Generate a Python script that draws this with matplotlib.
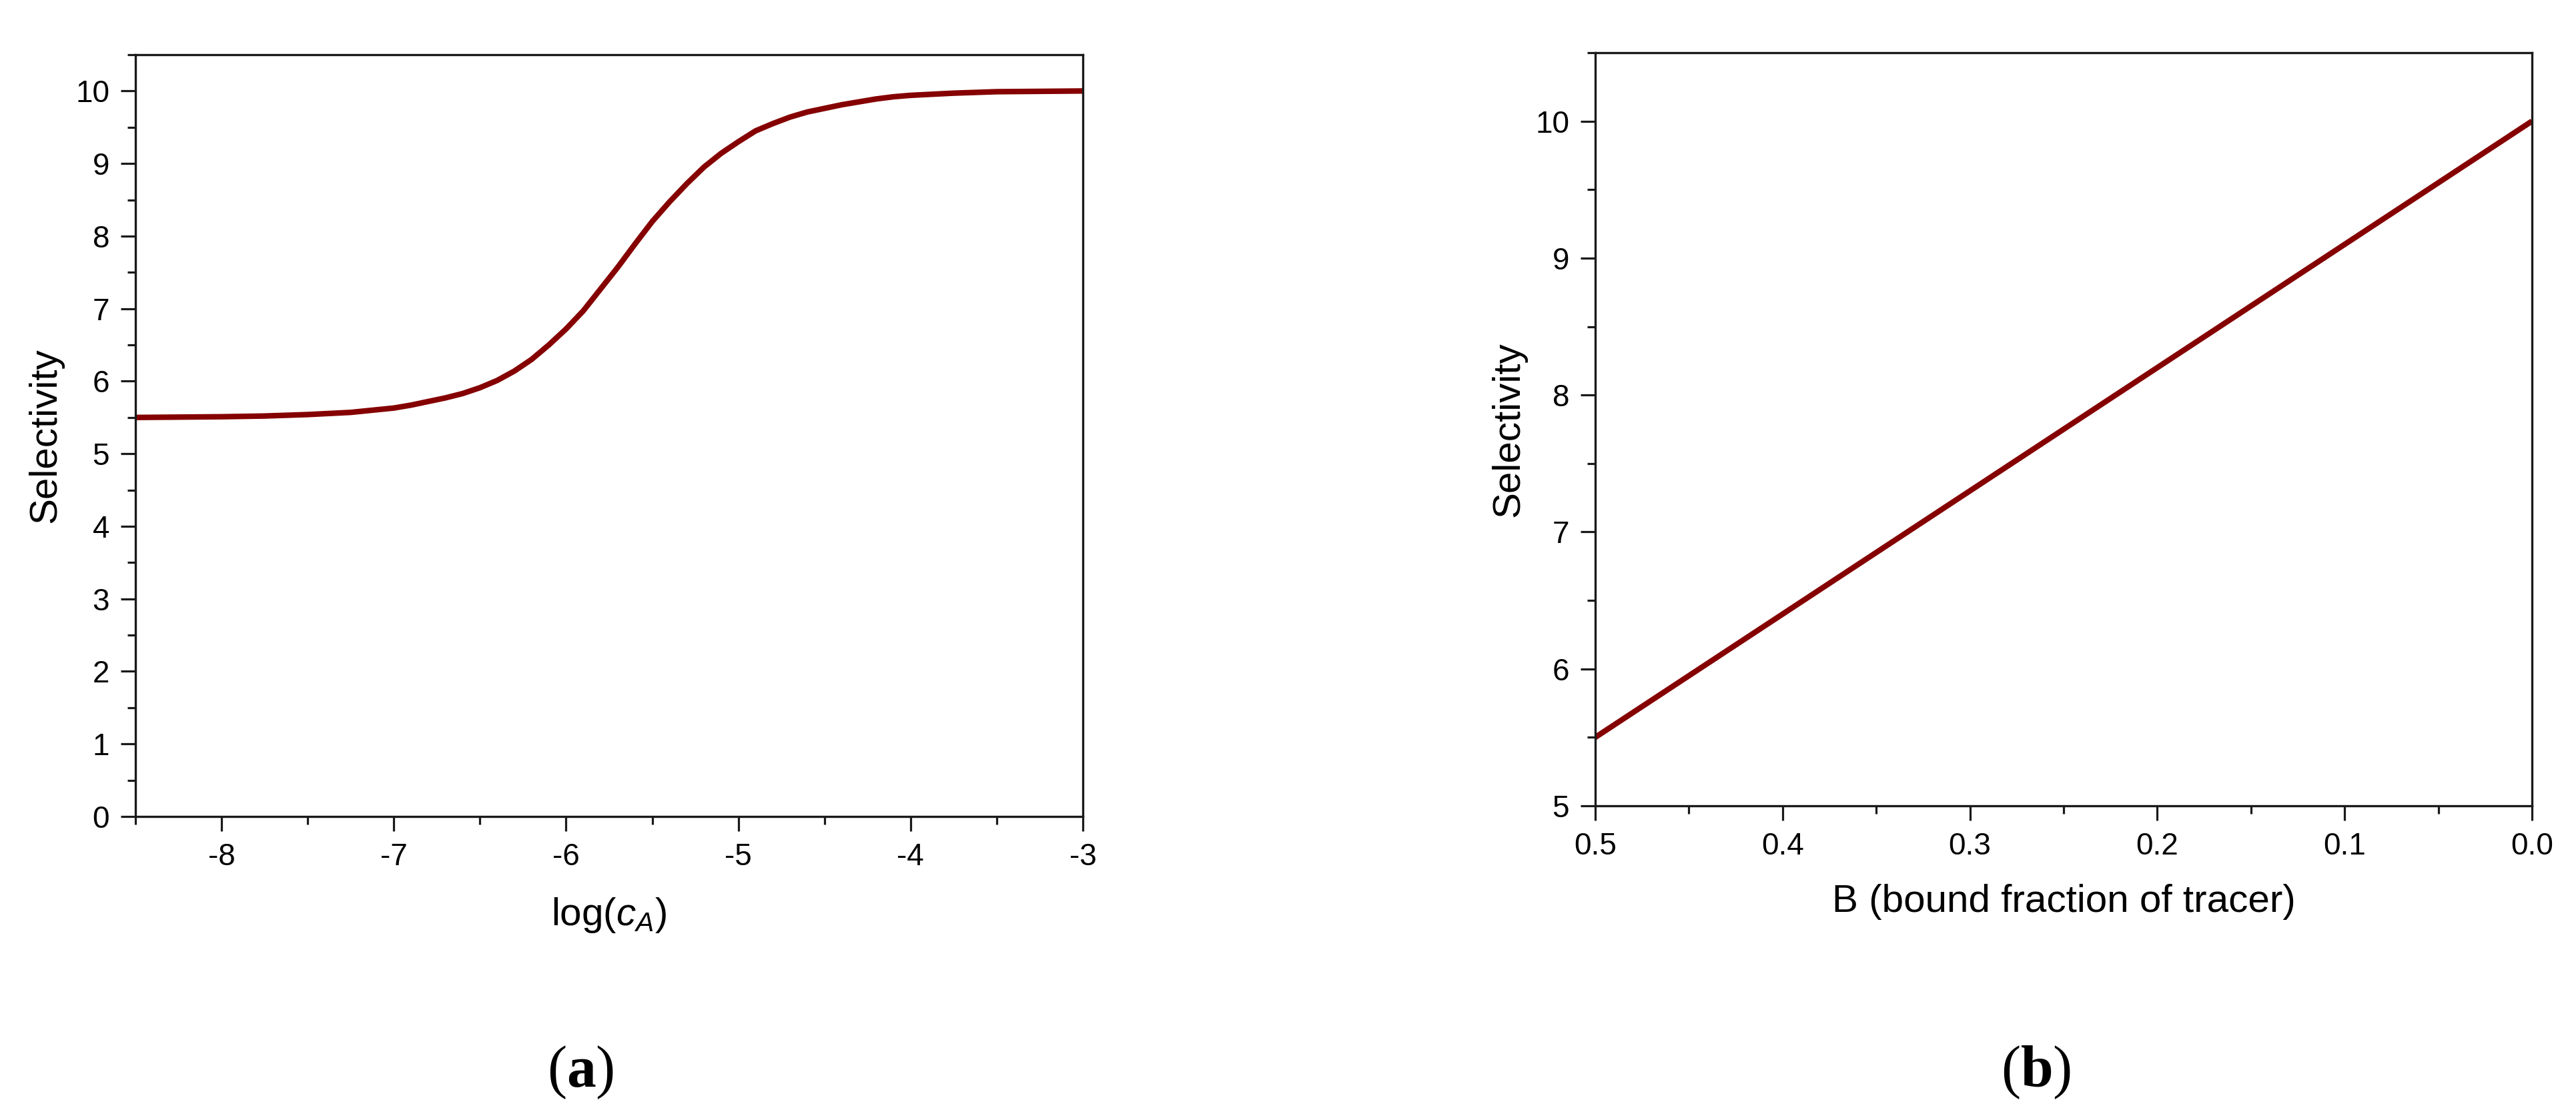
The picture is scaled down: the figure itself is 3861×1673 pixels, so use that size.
import matplotlib
matplotlib.use("Agg")
import matplotlib.pyplot as plt
from matplotlib.ticker import MultipleLocator, FormatStrFormatter

plt.rcParams['font.family'] = ['Liberation Sans', 'DejaVu Sans']
plt.rcParams['axes.unicode_minus'] = False
plt.rcParams['mathtext.fontset'] = 'custom'
plt.rcParams['mathtext.rm'] = 'Liberation Sans'
plt.rcParams['mathtext.it'] = 'Liberation Sans:italic'
plt.rcParams['mathtext.bf'] = 'Liberation Serif:bold'

# ---- data (a): selectivity vs log(c_A) ----
log_cA = [-8.5, -8.25, -8.0, -7.75, -7.5, -7.25, -7.0, -6.9, -6.8, -6.7,
          -6.6, -6.5, -6.4, -6.3, -6.2, -6.1, -6.0, -5.9, -5.8, -5.7,
          -5.6, -5.5, -5.4, -5.3, -5.2, -5.1, -5.0, -4.9, -4.8, -4.7,
          -4.6, -4.5, -4.4, -4.3, -4.2, -4.1, -4.0, -3.75, -3.5, -3.25,
          -3.0]
selectivity_a = [5.50, 5.505, 5.51, 5.52, 5.54, 5.57, 5.63, 5.67, 5.72, 5.77,
                 5.83, 5.91, 6.01, 6.14, 6.30, 6.50, 6.72, 6.97, 7.27, 7.57,
                 7.89, 8.20, 8.47, 8.72, 8.95, 9.14, 9.30, 9.45, 9.55, 9.64,
                 9.71, 9.76, 9.81, 9.85, 9.89, 9.92, 9.94, 9.97, 9.99, 9.995,
                 10.0]

# ---- data (b): selectivity vs bound fraction B ----
bound_fraction = [0.5, 0.4, 0.3, 0.2, 0.1, 0.0]
selectivity_b = [5.5, 6.4, 7.3, 8.2, 9.1, 10.0]

xticks_a = [-8, -7, -6, -5, -4, -3]
yticks_a = list(range(0, 11))
xticks_b = [0.5, 0.4, 0.3, 0.2, 0.1, 0.0]
yticks_b = [5, 6, 7, 8, 9, 10]

LINE_COLOR = '#850000'
SPINE_COLOR = '#1a1a1a'
W, H = 3862, 1673
fig = plt.figure(figsize=(W / 100, H / 100), dpi=100)

axA = fig.add_axes([203 / W, 1 - 1224 / H, 1420 / W, 1142 / H])
axB = fig.add_axes([2391 / W, 1 - 1208 / H, 1404 / W, 1129 / H])

axA.plot(log_cA, selectivity_a, color=LINE_COLOR, lw=6.0,
         solid_capstyle='butt', solid_joinstyle='round')
axB.plot(bound_fraction, selectivity_b, color=LINE_COLOR, lw=6.0,
         solid_capstyle='butt', solid_joinstyle='round')

axA.set_xlim(-8.5, -3)
axA.set_ylim(0, 10.5)
axA.set_xticks(xticks_a)
axA.set_yticks(yticks_a)
axA.xaxis.set_minor_locator(MultipleLocator(0.5))
axA.yaxis.set_minor_locator(MultipleLocator(0.5))

axB.set_xlim(0.5, 0.0)
axB.set_ylim(5, 10.5)
axB.set_xticks(xticks_b)
axB.set_yticks(yticks_b)
axB.xaxis.set_major_formatter(FormatStrFormatter('%.1f'))
axB.xaxis.set_minor_locator(MultipleLocator(0.05))
axB.yaxis.set_minor_locator(MultipleLocator(0.5))

for ax in (axA, axB):
    for sp in ax.spines.values():
        sp.set_linewidth(2.4)
        sp.set_color(SPINE_COLOR)
    ax.tick_params(which='major', direction='out', length=16, width=2.3,
                   labelsize=33, pad=12, color=SPINE_COLOR,
                   top=False, right=False)
    ax.tick_params(which='minor', direction='out', length=8.5, width=2.3,
                   color=SPINE_COLOR, top=False, right=False)
    ax.set_ylabel('Selectivity', fontsize=42)

axA.set_xlabel('log($c_A$)', fontsize=42)
axB.set_xlabel('B (bound fraction of tracer)', fontsize=42)
axA.yaxis.set_label_coords(-0.076, 0.5)
axB.yaxis.set_label_coords(-0.0734, 0.5)
axA.xaxis.set_label_coords(0.5, -0.104)
axB.xaxis.set_label_coords(0.5, -0.104)

fig.text(870 / W, 1 - 1608 / H, r'($\mathbf{a}$)', fontsize=63,
         family='Liberation Serif', ha='center', va='center')
fig.text(3052 / W, 1 - 1608 / H, r'($\mathbf{b}$)', fontsize=63,
         family='Liberation Serif', ha='center', va='center')

fig.savefig('out.png', dpi=100, facecolor='white')
